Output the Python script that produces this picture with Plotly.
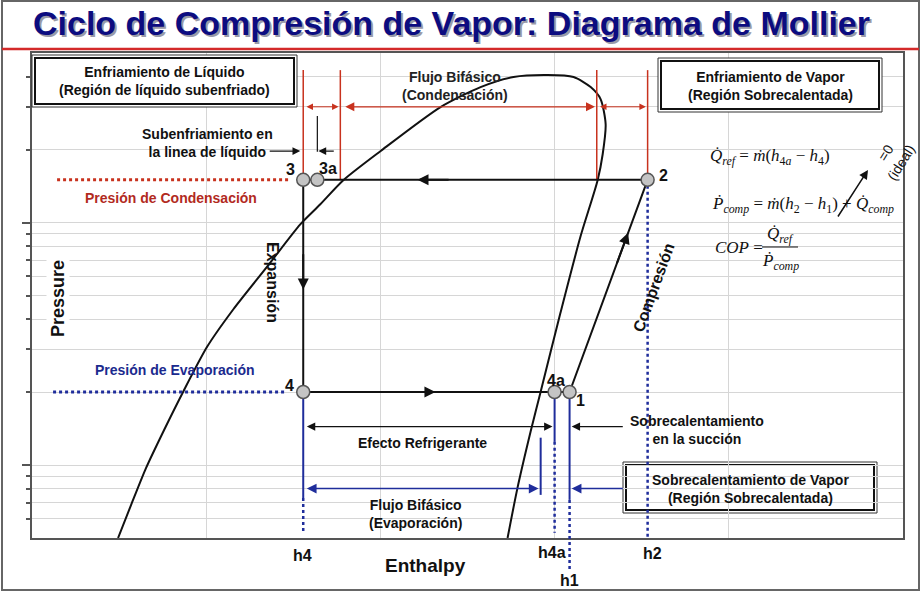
import numpy as np
import plotly.graph_objects as go

# ---------------- data (enthalpy in arbitrary units, pressure on log scale) ----------------
dome_h = [0.494, 0.569, 0.655, 0.759, 0.868, 1.006, 1.155, 1.351, 1.540, 1.655, 1.787, 2.000,
          2.345, 2.575, 2.764, 2.960, 3.109, 3.207, 3.264, 3.293, 3.276, 3.247, 3.149, 3.034,
          2.920, 2.862, 2.787, 2.730]
dome_p = [5.0, 6.85, 9.73, 13.98, 20.06, 30.78, 43.77, 65.9, 98.3, 118.9, 149.4, 196.8,
          299.2, 361.8, 398.0, 405.6, 398.0, 361.8, 322.8, 254.4, 191.2, 149.4, 87.7, 42.5,
          20.06, 13.71, 8.05, 5.0]

P_cond = 150
P_evap = 20
h4 = 1.557        # h3 = h4
h3a = 1.638
hf_cond = 1.770
hg_cond = 3.242
hg_evap = 2.920
h4a = 3.000
h1 = 3.086
h2 = 3.534

cycle_h = [h2, h4, h4, h1, h2]
cycle_p = [P_cond, P_cond, P_evap, P_evap, P_cond]

state_labels = ["3", "3a", "2", "4", "4a", "1"]
state_h = [h4, h3a, h2, h4, h4a, h1]
state_p = [P_cond, P_cond, P_cond, P_evap, P_evap, P_evap]

P_min, P_max = 5, 500
P_top = 425
P_dim_cond = 300
P_sub = 197
sub_left = [1.356, 1.540]
sub_right = [1.741, 1.644]
P_3a_tick = [275, 196]
P_efecto = 14.4
P_evapdim = 8
h_suc_tail = 3.40
cond_dot_h = [0.144, 1.471]
evap_dot_h = [0.121, 1.454]
P_h4_solid_end = 7.31
P_h4a_solid_end = 12.46
P_hg_line = [12.96, 7.53]
P_h1_solid_end = 7.18
P_dot_end = 5.25

major_p = [10, 100]
minor_p = [6, 7, 8, 9, 20, 30, 40, 50, 60, 70, 80, 90, 200, 300, 400]

RED = "#c8321e"
BLUE = "#1f2d9b"
L, R, T, B, W, H = 32, 21, 53, 55, 924, 593


def px(x):
    return (x - L) / (W - L - R)


def py(y):
    return (H - B - y) / (H - T - B)


def ylog(p):
    return float(np.log10(p))


fig = go.Figure()

# saturation dome
fig.add_trace(go.Scatter(x=dome_h, y=dome_p, mode="lines",
                         line=dict(color="#111", width=2, shape="spline", smoothing=0.7),
                         hoverinfo="skip"))

# red guide lines (condensation)
for hh in [h4, hf_cond, hg_cond, h2]:
    fig.add_trace(go.Scatter(x=[hh, hh], y=[P_cond, P_top], mode="lines", line=dict(color=RED, width=1.5)))
fig.add_trace(go.Scatter(x=cond_dot_h, y=[P_cond, P_cond], mode="lines", line=dict(color=RED, width=3, dash="dot")))
fig.add_trace(go.Scatter(x=evap_dot_h, y=[P_evap, P_evap], mode="lines", line=dict(color=BLUE, width=3, dash="dot")))
# 3a tick
fig.add_trace(go.Scatter(x=[h3a, h3a], y=P_3a_tick, mode="lines", line=dict(color="#111", width=1.2)))

# blue guide lines
fig.add_trace(go.Scatter(x=[h4, h4], y=[P_evap, P_h4_solid_end], mode="lines", line=dict(color=BLUE, width=2)))
fig.add_trace(go.Scatter(x=[h4, h4], y=[P_h4_solid_end, P_dot_end], mode="lines", line=dict(color=BLUE, width=2.5, dash="dot")))
fig.add_trace(go.Scatter(x=[h4a, h4a], y=[P_evap, P_h4a_solid_end], mode="lines", line=dict(color=BLUE, width=2)))
fig.add_trace(go.Scatter(x=[h4a, h4a], y=[P_h4a_solid_end, P_dot_end], mode="lines", line=dict(color=BLUE, width=2.5, dash="dot")))
fig.add_trace(go.Scatter(x=[hg_evap, hg_evap], y=P_hg_line, mode="lines", line=dict(color=BLUE, width=2)))
fig.add_trace(go.Scatter(x=[h1, h1], y=[P_evap, P_h1_solid_end], mode="lines", line=dict(color=BLUE, width=2)))
fig.add_trace(go.Scatter(x=[h2, h2], y=[P_cond, P_min], mode="lines", line=dict(color=BLUE, width=2.5, dash="dot")))

# cycle
fig.add_trace(go.Scatter(x=cycle_h, y=cycle_p, mode="lines", line=dict(color="#111", width=2)))
fig.add_trace(go.Scatter(x=state_h, y=state_p, mode="markers",
                         marker=dict(size=13, color="#c4c4c4", line=dict(color="#555", width=1.5))))

shapes = []
# h1 dotted line extends below the axis
shapes.append(dict(type="line", xref="x", yref="paper", x0=h1, x1=h1,
                   y0=(ylog(P_h1_solid_end) - ylog(P_min)) / 2, y1=py(570),
                   line=dict(color=BLUE, width=2.5, dash="dot")))


def box(x0, y0, x1, y1, layer="above"):
    shapes.append(dict(type="rect", xref="paper", yref="paper", x0=px(x0), x1=px(x1), y0=py(y0), y1=py(y1),
                       line=dict(color="#333", width=1), fillcolor="white", layer=layer))
    shapes.append(dict(type="rect", xref="paper", yref="paper", x0=px(x0 + 3), x1=px(x1 - 3), y0=py(y0 + 3), y1=py(y1 - 3),
                       line=dict(color="#111", width=2), fillcolor="white", layer=layer))


box(32, 55, 297, 107)
box(658, 58, 882, 112)


# box 3 below traces (dotted h2 line passes over it) -> data refs
def dbox(x0, y0, x1, y1, inset):
    X = lambda p: (p - L) / 174.2
    Y = lambda q: 10 ** (ylog(P_min) + (H - B - q) / 242.5)
    shapes.append(dict(type="rect", xref="x", yref="y", x0=X(x0 + inset), x1=X(x1 - inset), y0=Y(y0 + inset), y1=Y(y1 - inset),
                       line=dict(color="#111" if inset else "#333", width=2 if inset else 1), fillcolor="white", layer="below"))


dbox(623, 462, 877, 513, 0)
dbox(623, 462, 877, 513, 3)

# outer frame and title rule
shapes.append(dict(type="rect", xref="paper", yref="paper", x0=px(2), x1=px(919), y0=py(1), y1=py(590),
                   line=dict(color="#666", width=2), fillcolor="rgba(0,0,0,0)"))
shapes.append(dict(type="line", xref="paper", yref="paper", x0=px(2), x1=px(919), y0=py(49), y1=py(49),
                   line=dict(color="#d42a2a", width=2.5)))
# fraction bar
shapes.append(dict(type="line", xref="paper", yref="paper", x0=px(762), x1=px(798), y0=py(247), y1=py(247),
                   line=dict(color="#111", width=1)))

ann = []


def txt(x, y, s, size=14, color="#111", bold=True, angle=0, xanchor="center", family="Liberation Sans", bg=None):
    d = dict(x=px(x), y=py(y), xref="paper", yref="paper", text=("<b>%s</b>" % s) if bold else s,
             showarrow=False, xanchor=xanchor, yanchor="middle", textangle=angle,
             font=dict(family=family, size=size, color=color))
    if bg:
        d["bgcolor"] = bg
    ann.append(d)


def arrow(xh, yh, xt, yt, color="#111", width=1.2, size=1.3, both=False, head=2):
    d = dict(x=xh, y=ylog(yh), ax=xt, ay=ylog(yt), xref="x", yref="y", axref="x", ayref="y",
             text="", showarrow=True, arrowhead=head, arrowsize=size, arrowwidth=width, arrowcolor=color)
    if both:
        d["arrowside"] = "end+start"
        d["startarrowhead"] = head
        d["startarrowsize"] = size
    ann.append(d)


# flow direction arrows
arrow(2.213, P_cond, 2.40, P_cond, width=2, size=1.1)
arrow(h4, 52.9, h4, 75, width=2, size=1.1)
arrow(2.316, P_evap, 2.15, P_evap, width=2, size=1.1)
t_h, t_t = 0.75, 0.6
lx = lambda t: h1 + t * (h2 - h1)
lp = lambda t: 10 ** (ylog(P_evap) + t * (ylog(P_cond) - ylog(P_evap)))
arrow(lx(t_h), lp(t_h), lx(t_t), lp(t_t), width=2, size=1.1)

# dimension arrows
arrow(hf_cond - 0.01, P_dim_cond, h4 + 0.01, P_dim_cond, color=RED, width=1, size=1.3, both=True)
arrow(hg_cond - 0.01, P_dim_cond, hf_cond + 0.02, P_dim_cond, color=RED, width=1.2, size=1.5, both=True)
arrow(h2 - 0.01, P_dim_cond, hg_cond + 0.01, P_dim_cond, color=RED, width=1, size=1.3, both=True)
arrow(h4a - 0.012, P_efecto, h4 + 0.012, P_efecto, width=1.2, size=1.4, both=True)
arrow(hg_evap - 0.012, P_evapdim, h4 + 0.012, P_evapdim, color=BLUE, width=1.5, size=1.3, both=True)
arrow(h1 + 0.012, P_efecto, h_suc_tail, P_efecto, width=1.2, size=1.4)
arrow(h1 + 0.012, P_evapdim, h_suc_tail, P_evapdim, color=BLUE, width=1.5, size=1.3)
arrow(sub_left[1], P_sub, sub_left[0], P_sub, width=1.2, size=1.3)
arrow(sub_right[1], P_sub, sub_right[0], P_sub, width=1.2, size=1.3)

# title with shadow
txt(453, 25, "Ciclo de Compresión de Vapor: Diagrama de Mollier", size=34, color="#9a9aa8")
txt(451, 23, "Ciclo de Compresión de Vapor: Diagrama de Mollier", size=34, color="#0c0c80")

txt(164, 81, "Enfriamiento de Líquido<br>(Región de líquido subenfriado)")
txt(770, 86, "Enfriamiento de Vapor<br>(Región Sobrecalentada)")
txt(750, 489, "Sobrecalentamiento de Vapor<br>(Región Sobrecalentada)")
txt(455, 86, "Flujo Bifásico<br>(Condensación)", color="#222")
txt(207, 143, "Subenfriamiento en<br>la linea de líquido")
txt(171, 198, "Presión de Condensación", color="#b22a1e")
txt(175, 370, "Presión de Evaporación", color="#1b2a8e")
txt(58, 299, "Pressure", size=18, angle=-90, bg="white")
txt(273, 282, "Expansión", size=16, angle=90)
txt(653, 288, "Compresión", size=16, angle=-70)
txt(422, 443, "Efecto Refrigerante")
txt(697, 430, "Sobrecalentamiento<br>en la succión")
txt(415, 514, "Flujo Bifásico<br>(Evaporación)")
txt(425, 565, "Enthalpy", size=19)
txt(302, 555, "h4", size=16)
txt(552, 552, "h4a", size=16)
txt(652, 553, "h2", size=16)
txt(569, 580, "h1", size=16)
for lab, (xx, yy) in zip(state_labels, [(290, 169), (328, 168), (663, 175), (289, 385), (556, 380), (580, 400)]):
    txt(xx, yy, lab, size=16)

# equations
SER = "Liberation Serif"
txt(708, 157, "<i>Q\u0307</i><sub><i>ref</i></sub> = <i>ṁ</i>(<i>h</i><sub>4<i>a</i></sub> − <i>h</i><sub>4</sub>)",
    size=17, bold=False, xanchor="left", family=SER)
txt(710, 205, "<i>Ṗ</i><sub><i>comp</i></sub> = <i>ṁ</i>(<i>h</i><sub>2</sub> − <i>h</i><sub>1</sub>) + <i>Q\u0307</i><sub><i>comp</i></sub>",
    size=17, bold=False, xanchor="left", family=SER)
txt(713, 247, "<i>COP</i> =", size=17, bold=False, xanchor="left", family=SER)
txt(780, 235, "<i>Q\u0307</i><sub><i>ref</i></sub>", size=17, bold=False, family=SER)
txt(780, 262, "<i>Ṗ</i><sub><i>comp</i></sub>", size=17, bold=False, family=SER)
txt(893, 158, "=0<br>(ideal)", size=14, bold=False, angle=-58)
ann.append(dict(x=px(868), y=py(170), xref="paper", yref="paper", ax=-31, ay=48, text="", showarrow=True,
                arrowhead=2, arrowsize=1.2, arrowwidth=1.5, arrowcolor="#111"))

fig.update_layout(
    width=W, height=H, margin=dict(l=L, r=R, t=T, b=B),
    paper_bgcolor="white", plot_bgcolor="white", showlegend=False,
    shapes=shapes, annotations=ann,
    xaxis=dict(range=[0, 5], tickvals=[1, 2, 3, 4], showticklabels=False, ticks="",
               showgrid=True, gridcolor="#d6d6d6", gridwidth=1, zeroline=False,
               showline=True, linecolor="#555", linewidth=2, mirror=True, fixedrange=True),
    yaxis=dict(type="log", range=[ylog(P_min), ylog(P_max)], tickvals=major_p, showticklabels=False,
               ticks="outside", ticklen=8, tickcolor="#555", tickwidth=1.5,
               showgrid=True, gridcolor="#d6d6d6", gridwidth=1, zeroline=False,
               minor=dict(tickvals=minor_p, ticks="outside", ticklen=4, tickcolor="#555", showgrid=True,
                          gridcolor="#d6d6d6", gridwidth=1),
               showline=True, linecolor="#555", linewidth=2, mirror=True, fixedrange=True),
)

fig.write_html("out.html", config={"displayModeBar": False},
               post_script="document.body.style.margin='0';document.body.style.overflow='hidden';")
